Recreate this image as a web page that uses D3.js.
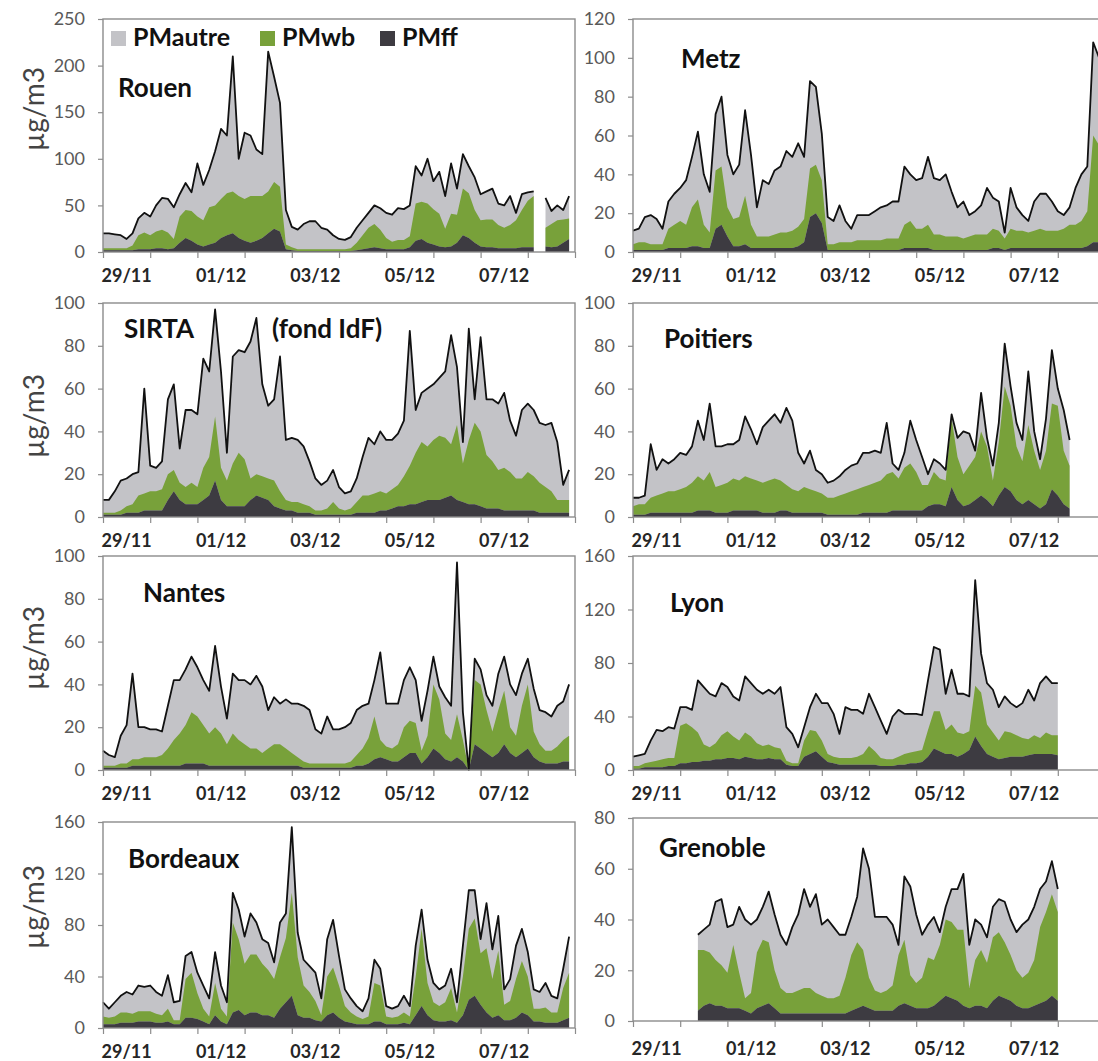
<!DOCTYPE html>
<html>
<head>
<meta charset="utf-8">
<script src="https://cdn.jsdelivr.net/npm/d3@7"></script>
<style>
  body { margin: 0; background: #fff; }
  svg { display: block; }
  text { font-family: Lato, "Open Sans", sans-serif; }
</style>
</head>
<body>
<svg id="chart" width="1098" height="1061"></svg>
<script>
// ---- time axis: 3-hourly samples from 29/11 00:00 over 10 days ----
const stepHours = 3;
const timeHours = d3.range(0, 240, stepHours);
const dayTickLabels = ["29/11", "01/12", "03/12", "05/12", "07/12"];
const dayTickLabelDays = [0, 2, 4, 6, 8];
const seriesNames = ["PMautre", "PMwb", "PMff"];
const N = null;

// ---- Rouen ----
const rouenTotal = [20,20,19,18,14,20,36,42,38,50, 58,57,48,62,74,64,95,72,88,108, 132,125,210,100,128,125,110,105,215,188, 160,45,27,24,30,33,33,26,24,18, 14,13,16,26,34,42,50,47,42,40, 47,46,50,92,82,100,76,86,60,95, 68,105,92,80,62,65,68,52,50,60, 42,62,64,65,N,58,44,50,45,60];
const rouenFf    = [2,2,2,2,2,2,3,3,3,4, 4,3,4,10,15,12,8,6,8,10, 15,18,20,15,12,10,12,15,20,25, 22,3,2,1,1,1,1,1,1,1, 1,1,1,2,3,4,5,4,3,3, 3,3,5,12,14,10,8,6,5,6, 10,18,15,10,6,5,5,4,4,4, 4,5,5,5,N,6,5,6,10,14];
const rouenWb    = [2,2,2,2,2,5,15,18,15,18, 20,18,10,28,30,32,30,28,40,40, 42,45,45,45,45,50,48,45,45,50, 48,5,3,2,2,2,2,2,2,2, 2,2,3,8,15,22,25,20,12,8, 10,10,12,40,40,42,38,35,20,35, 30,50,48,35,28,30,30,25,22,25, 30,40,50,55,N,20,25,28,25,22];

// ---- Metz ----
const metzTotal = [11,12,18,19,17,12,26,30,33,37, 49,62,40,31,71,80,50,40,45,73, 50,23,37,35,42,44,52,49,56,49, 88,85,61,18,16,24,16,12,19,19, 19,21,23,24,26,26,44,40,37,38, 49,38,37,40,31,23,26,19,21,24, 33,28,26,10,33,23,19,16,26,30, 30,26,21,19,23,33,40,44,108,100];
const metzFf    = [1,1,1,1,1,1,2,2,2,2, 3,3,2,2,12,14,8,3,3,4, 2,2,2,2,2,2,2,2,3,5, 18,20,15,1,1,1,1,1,1,1, 1,1,1,1,1,1,2,2,2,2, 2,1,1,1,1,1,1,1,1,1, 1,2,2,1,2,2,2,2,2,2, 2,2,2,2,2,2,2,3,5,5];
const metzWb    = [3,4,4,3,3,3,10,12,14,12, 20,24,12,8,30,30,15,14,15,25, 12,6,6,6,7,8,8,9,10,12, 25,25,22,3,3,4,4,4,5,5, 5,5,5,6,6,6,12,14,10,10, 12,8,8,7,7,7,6,7,8,8, 8,10,9,6,10,9,9,8,9,10, 9,9,9,10,12,12,14,18,55,50];

// ---- SIRTA (fond IdF) ----
const sirtaTotal = [8,8,12,17,18,20,21,60,24,23, 26,55,62,32,50,50,48,74,68,97, 68,30,75,78,77,82,93,62,52,55, 75,36,37,36,33,26,18,15,17,22, 14,11,12,18,28,37,34,40,36,36, 39,45,87,50,58,60,62,65,68,85, 70,35,88,55,84,55,55,53,58,45, 38,50,53,50,44,43,44,35,15,22];
const sirtaFf    = [1,1,1,1,2,2,2,3,3,3, 3,8,12,8,6,6,6,8,10,17, 8,5,5,5,5,8,10,9,8,5, 4,3,3,2,2,2,1,1,1,1, 1,1,1,2,2,2,2,3,3,4, 5,5,6,6,7,8,8,8,9,10, 8,7,6,6,5,4,4,4,3,3, 3,3,3,3,2,2,2,2,2,2];
const sirtaWb    = [1,1,1,2,3,4,8,8,9,9, 10,12,10,8,8,10,8,15,18,30, 15,12,20,25,22,10,10,10,10,12, 8,5,4,5,4,3,2,2,3,6, 3,2,3,5,8,8,9,9,8,9, 10,14,18,24,28,25,28,30,28,24, 35,18,30,38,35,25,22,18,20,18, 15,15,18,16,14,12,10,6,6,6];

// ---- Poitiers ----
const poitiersTotal = [9,9,10,34,22,27,25,27,30,29, 33,45,36,53,33,33,34,34,36,47, 41,34,42,45,48,44,51,45,30,25, 31,22,20,16,17,19,22,24,25,30, 30,31,30,44,25,22,30,45,36,28, 20,27,25,22,48,37,40,39,31,58, 37,24,44,81,61,44,36,68,40,27, 46,78,60,50,36,N,N,N,N,N];
const poitiersFf    = [1,1,1,2,2,2,2,2,2,2, 2,3,3,3,2,2,2,3,3,3, 3,3,2,2,2,3,3,2,2,2, 2,2,2,1,1,1,1,1,1,2, 2,2,2,2,3,3,3,3,3,3, 5,6,6,5,14,8,5,6,8,10, 8,5,10,14,12,8,6,8,6,4, 6,13,10,6,4,N,N,N,N,N];
const poitiersWb    = [4,5,5,7,8,9,10,10,11,12, 14,16,14,18,12,13,14,15,14,16, 15,14,14,15,16,14,12,11,10,12, 11,10,9,8,8,9,10,11,12,12, 13,14,15,18,18,15,20,22,18,12, 10,15,12,12,32,20,15,18,20,30, 25,12,25,47,40,25,20,35,25,18, 25,40,42,25,20,N,N,N,N,N];

// ---- Nantes ----
const nantesTotal = [9,7,6,16,21,45,20,20,19,19, 18,30,42,42,47,53,48,42,37,58, 39,24,45,42,42,40,44,39,28,34, 31,33,31,31,30,28,19,17,25,19, 19,20,22,28,30,31,42,55,31,31, 31,42,48,42,23,37,53,39,34,30, 97,27,0,52,47,35,30,45,53,40, 35,45,52,38,28,27,25,30,32,40];
const nantesFf    = [1,1,1,1,1,2,2,2,2,2, 2,2,2,2,3,3,3,3,2,2, 2,2,2,2,2,2,2,2,2,2, 2,2,2,2,1,1,1,1,1,1, 1,1,1,2,2,3,5,6,5,4, 4,6,8,8,3,6,10,8,5,4, 6,4,0,12,10,8,6,8,12,8, 6,8,10,6,4,3,3,3,4,4];
const nantesWb    = [1,1,1,2,2,3,3,4,4,4, 5,8,12,15,18,24,22,18,15,18, 15,10,15,12,10,8,8,6,8,10, 10,8,6,4,3,2,2,2,2,2, 2,2,3,5,8,12,20,8,6,6, 8,14,15,14,6,10,30,25,12,10, 20,10,0,30,30,20,12,20,25,12, 10,22,30,12,8,6,6,8,10,12];

// ---- Lyon ----
const lyonTotal = [10,11,12,22,30,29,32,31,47,47, 45,67,62,57,55,65,62,55,52,70, 65,60,57,60,57,62,32,27,17,32, 47,57,50,50,42,27,47,45,45,42, 57,47,37,27,40,45,42,42,42,41, 67,92,90,57,75,57,57,55,142,87, 65,60,47,55,50,47,50,60,52,65, 70,65,65,N,N,N,N,N,N,N];
const lyonFf    = [1,1,2,2,2,2,3,3,5,5, 6,6,7,7,8,8,9,9,8,10, 9,8,8,9,8,8,4,3,3,10, 12,14,10,6,5,4,4,4,4,4, 4,4,3,3,3,4,4,5,5,6, 10,16,14,12,12,10,12,15,25,18, 12,10,8,9,10,10,10,11,12,12, 12,12,11,N,N,N,N,N,N,N];
const lyonWb    = [2,2,3,4,5,6,6,6,28,30, 26,22,12,10,12,18,20,16,14,18, 16,12,10,10,9,8,3,2,2,12, 18,15,12,6,5,5,5,5,6,8, 14,10,6,5,5,6,8,8,9,9, 20,28,30,18,22,18,15,14,38,40, 22,18,14,20,18,16,14,12,14,12, 16,14,15,N,N,N,N,N,N,N];

// ---- Bordeaux ----
const bordeauxTotal = [20,15,20,25,28,26,33,32,33,28, 25,41,20,21,56,59,43,33,23,59, 33,20,105,92,71,89,82,69,66,51, 82,89,156,74,53,48,43,23,69,84, 56,30,23,17,13,23,53,46,17,15, 17,25,17,64,92,53,35,30,33,46, 20,64,107,107,69,97,61,87,30,38, 64,77,59,30,28,35,25,23,46,71];
const bordeauxFf    = [3,3,3,4,4,4,5,5,5,4, 4,5,3,3,8,8,7,5,3,10, 5,3,12,14,10,12,12,10,10,8, 15,20,25,10,8,8,6,5,10,12, 8,5,4,3,3,3,5,5,3,3, 3,4,3,10,17,10,6,5,5,6, 4,10,22,25,18,12,8,10,6,6, 8,12,10,5,5,4,4,4,6,8];
const bordeauxWb    = [6,5,6,8,8,7,8,8,8,7, 6,10,3,3,30,35,20,10,6,25, 10,6,70,55,40,45,45,40,35,30, 40,50,80,45,25,20,15,5,30,35, 25,12,8,6,4,6,30,28,6,5, 6,8,6,30,60,25,14,12,15,25, 8,30,55,60,40,50,30,50,12,15, 30,40,30,10,10,12,8,8,25,35];

// ---- Grenoble ----
const grenobleTotal = [N,N,N,N,N,N,N,N,N,N, N,34,36,38,47,48,37,38,45,40, 38,40,45,51,42,34,30,37,42,52, 45,50,38,40,37,34,34,41,49,68, 60,41,41,41,38,30,57,53,42,34, 38,41,35,45,52,52,58,30,40,38, 33,45,48,47,40,35,38,40,45,52, 55,63,52,N,N,N,N,N,N,N];
const grenobleFf    = [N,N,N,N,N,N,N,N,N,N, N,4,6,7,6,6,5,5,5,4, 3,5,6,7,5,3,3,3,3,3, 3,3,3,3,3,3,3,4,5,6, 5,4,4,4,4,6,7,6,5,5, 5,6,8,10,9,8,6,5,6,6, 5,8,10,9,8,6,5,5,6,7, 8,10,8,N,N,N,N,N,N,N];
const grenobleWb    = [N,N,N,N,N,N,N,N,N,N, N,24,22,20,18,16,14,25,14,5, 8,22,26,24,15,10,8,8,9,10, 10,8,7,6,6,7,14,22,26,22, 12,8,7,8,10,20,25,12,10,12, 20,18,22,30,30,28,30,8,18,22, 18,25,25,22,18,14,12,14,18,30, 35,40,35,N,N,N,N,N,N,N];

// ---- styling ----
const fills = { PMautre: "#c3c3c7", PMwb: "#78a13a", PMff: "#3d3b41" };
const frameColor = "#8c8c8c";
const tickTextColor = "#595959";

// ---- panel layout (plot-area geometry in px) ----
const panelWidth = 472;
const panels = [
  { station: "Rouen",    total: rouenTotal,    wb: rouenWb,    ff: rouenFf,    yMax: 250, yStep: 50, x0: 103, y0: 252,  y1: 19,  nameAt: [118, 97],  titleY: 109, legend: true },
  { station: "Metz",     total: metzTotal,     wb: metzWb,     ff: metzFf,     yMax: 120, yStep: 20, x0: 633, y0: 252,  y1: 19,  nameAt: [681, 68] },
  { station: "SIRTA",    total: sirtaTotal,    wb: sirtaWb,    ff: sirtaFf,    yMax: 100, yStep: 20, x0: 103, y0: 517,  y1: 303, nameAt: [124, 338], titleY: 416, note: { text: "(fond IdF)", at: [272, 338] } },
  { station: "Poitiers", total: poitiersTotal, wb: poitiersWb, ff: poitiersFf, yMax: 100, yStep: 20, x0: 633, y0: 517,  y1: 303, nameAt: [664, 348] },
  { station: "Nantes",   total: nantesTotal,   wb: nantesWb,   ff: nantesFf,   yMax: 100, yStep: 20, x0: 103, y0: 770,  y1: 556, nameAt: [143, 602], titleY: 648 },
  { station: "Lyon",     total: lyonTotal,     wb: lyonWb,     ff: lyonFf,     yMax: 160, yStep: 40, x0: 633, y0: 770,  y1: 556, nameAt: [670, 612] },
  { station: "Bordeaux", total: bordeauxTotal, wb: bordeauxWb, ff: bordeauxFf, yMax: 160, yStep: 40, x0: 103, y0: 1028, y1: 822, nameAt: [128, 868], titleY: 907 },
  { station: "Grenoble", total: grenobleTotal, wb: grenobleWb, ff: grenobleFf, yMax: 80,  yStep: 20, x0: 633, y0: 1021, y1: 818, nameAt: [659, 857], labelOffset: 34 }
];

const svg = d3.select("#chart");

panels.forEach(p => {
  const g = svg.append("g").attr("class", "panel");
  const x = d3.scaleLinear().domain([0, 240]).range([p.x0, p.x0 + panelWidth]);
  const y = d3.scaleLinear().domain([0, p.yMax]).range([p.y0, p.y1]);

  const rows = timeHours.map((h, i) => ({ h, total: p.total[i], wb: p.wb[i], ff: p.ff[i] }));
  const has = d => d.total != null;

  // PMautre: everything under the measured total
  const totalArea = d3.area().defined(has)
    .x(d => x(d.h)).y0(y(0)).y1(d => y(d.total));
  g.append("path").datum(rows).attr("d", totalArea).attr("fill", fills.PMautre);

  // PMff at the bottom, PMwb stacked on it
  const stacked = d3.stack().keys(["ff", "wb"]).value((d, k) => d[k] == null ? 0 : d[k])(rows);
  const bandArea = d3.area().defined(d => has(d.data))
    .x(d => x(d.data.h)).y0(d => y(d[0])).y1(d => y(d[1]));
  g.append("path").datum(stacked[1]).attr("d", bandArea).attr("fill", fills.PMwb);
  g.append("path").datum(stacked[0]).attr("d", bandArea).attr("fill", fills.PMff);

  // total PM line
  const totalLine = d3.line().defined(has).x(d => x(d.h)).y(d => y(d.total));
  g.append("path").datum(rows).attr("d", totalLine)
    .attr("fill", "none").attr("stroke", "#111").attr("stroke-width", 1.8)
    .attr("stroke-linejoin", "round");

  // plot frame
  g.append("rect")
    .attr("x", p.x0).attr("y", p.y1)
    .attr("width", panelWidth).attr("height", p.y0 - p.y1)
    .attr("fill", "none").attr("stroke", frameColor).attr("stroke-width", 1.4);

  // y axis
  const yAxis = d3.axisLeft(y)
    .tickValues(d3.range(0, p.yMax + 1, p.yStep))
    .tickSize(5).tickPadding(13);
  g.append("g").attr("transform", `translate(${p.x0},0)`).call(yAxis)
    .call(a => a.select(".domain").remove())
    .call(a => a.selectAll(".tick line").attr("stroke", frameColor).attr("stroke-width", 1.2))
    .call(a => a.selectAll(".tick text")
      .attr("fill", tickTextColor).style("font-size", "18px").style("font-family", "Lato, sans-serif"));

  // x axis: a tick at every day boundary, labels centred on every other day
  const xAxis = d3.axisBottom(x).tickValues(d3.range(0, 241, 24)).tickSize(6).tickFormat("");
  g.append("g").attr("transform", `translate(0,${p.y0})`).call(xAxis)
    .call(a => a.select(".domain").remove())
    .call(a => a.selectAll(".tick line").attr("stroke", frameColor).attr("stroke-width", 1.2));

  const off = p.labelOffset || 30;
  g.selectAll("text.day").data(dayTickLabels).enter().append("text")
    .attr("class", "day")
    .attr("x", (d, i) => x(dayTickLabelDays[i] * 24 + 12))
    .attr("y", p.y0 + off)
    .attr("text-anchor", "middle")
    .attr("fill", "#262626")
    .style("font-size", "18px").style("font-weight", "700")
    .text(d => d);

  // station name
  g.append("text").attr("x", p.nameAt[0]).attr("y", p.nameAt[1])
    .attr("fill", "#111").style("font-size", "26px").style("font-weight", "700")
    .text(p.station);
  if (p.note) {
    g.append("text").attr("x", p.note.at[0]).attr("y", p.note.at[1])
      .attr("fill", "#111").style("font-size", "26px").style("font-weight", "700")
      .text(p.note.text);
  }

  // unit title on the left-hand column
  if (p.titleY) {
    svg.append("text")
      .attr("transform", `translate(44,${p.titleY}) rotate(-90)`)
      .attr("text-anchor", "middle")
      .attr("fill", "#444")
      .style("font-size", "28px")
      .text("µg/m3");
  }

  // legend
  if (p.legend) {
    const items = [
      { key: "PMautre", x: 111 },
      { key: "PMwb", x: 260 },
      { key: "PMff", x: 380 }
    ];
    const lg = g.append("g").attr("class", "legend");
    items.forEach(it => {
      lg.append("rect").attr("x", it.x).attr("y", 31).attr("width", 15).attr("height", 15)
        .attr("fill", fills[it.key]);
      lg.append("text").attr("x", it.x + 22).attr("y", 46)
        .attr("fill", "#111").style("font-size", "25px").style("font-weight", "700")
        .text(it.key);
    });
  }
});
</script>
</body>
</html>
